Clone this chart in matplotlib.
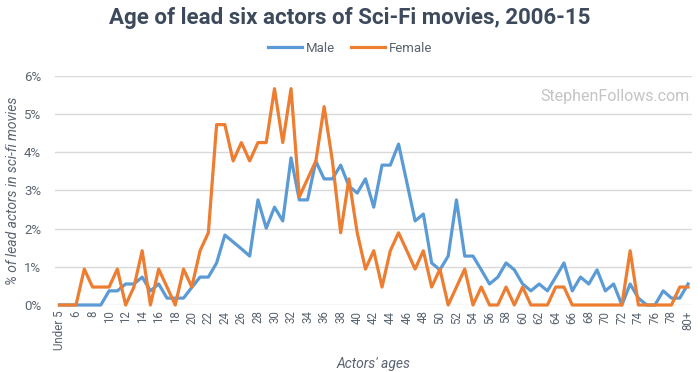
import matplotlib
matplotlib.use("Agg")
import matplotlib.pyplot as plt
from matplotlib.ticker import FuncFormatter

plt.rcParams["font.family"] = ["Roboto", "DejaVu Sans"]

# age categories: Under 5, 5 ... 79, 80+
AGES = ["Under 5"] + [str(a) for a in range(5, 80)] + ["80+"]

MALE = [
    0, 0, 0, 0, 0, 0, 0.37, 0.37, 0.55, 0.55,          # U5 .. 13
    0.73, 0.37, 0.55, 0.18, 0.18, 0.18, 0.46, 0.73, 0.73, 1.10,  # 14 .. 23
    1.83, 1.65, 1.47, 1.28, 2.75, 2.01, 2.56, 2.20, 3.85, 2.75,  # 24 .. 33
    2.75, 3.76, 3.30, 3.30, 3.66, 3.11, 2.93, 3.30, 2.56, 3.66,  # 34 .. 43
    3.66, 4.21, 3.21, 2.20, 2.38, 1.10, 0.92, 1.28, 2.75, 1.28,  # 44 .. 53
    1.28, 0.92, 0.55, 0.73, 1.10, 0.92, 0.55, 0.37, 0.55, 0.37,  # 54 .. 63
    0.73, 1.10, 0.37, 0.73, 0.55, 0.92, 0.37, 0.55, 0, 0.55,     # 64 .. 73
    0.18, 0, 0, 0.37, 0.18, 0.18, 0.55,                          # 74 .. 80+
]
FEMALE = [
    0, 0, 0, 0.94, 0.47, 0.47, 0.47, 0.94, 0, 0.47,             # U5 .. 13
    1.42, 0, 0.94, 0.47, 0, 0.94, 0.47, 1.42, 1.89, 4.72,       # 14 .. 23
    4.72, 3.77, 4.25, 3.77, 4.25, 4.25, 5.66, 4.25, 5.66, 2.83,  # 24 .. 33
    3.30, 3.77, 5.19, 3.77, 1.89, 3.30, 1.89, 0.94, 1.42, 0.47,  # 34 .. 43
    1.42, 1.89, 1.42, 0.94, 1.42, 0.47, 0.94, 0, 0.47, 0.94,     # 44 .. 53
    0, 0.47, 0, 0, 0.47, 0, 0.47, 0, 0, 0,                       # 54 .. 63
    0.47, 0.47, 0, 0, 0, 0, 0, 0, 0, 1.42,                       # 64 .. 73
    0, 0, 0, 0, 0, 0.47, 0.47,                                   # 74 .. 80+
]

BLUE = "#5b9bd5"
ORANGE = "#ed7d31"
TEXT = "#3d4a5c"
TICK = "#59636f"

fig = plt.figure(figsize=(7.0, 3.72), dpi=100)
ax = fig.add_axes([55 / 700, 67 / 372, 637 / 700, 229.3 / 372])

x = list(range(len(AGES)))
ax.plot(x, MALE, color=BLUE, lw=2.3, label="Male", clip_on=False, zorder=3)
ax.plot(x, FEMALE, color=ORANGE, lw=2.3, label="Female", clip_on=False, zorder=4)

ax.set_xlim(-0.54, 76.48)
ax.set_ylim(0, 6)
ax.set_yticks(range(0, 7))
ax.yaxis.set_major_formatter(FuncFormatter(lambda v, p: f"{v:.0f}%"))
ax.set_xticks(x[::2])
ax.set_xticklabels(AGES[::2], rotation=90, fontsize=8.3, color=TICK)
ax.tick_params(axis="y", labelsize=9.5, colors=TICK, length=0, pad=10)
ax.tick_params(axis="x", length=0, pad=4)

ax.grid(axis="y", color="#d9d9d9", lw=1)
ax.set_axisbelow(True)
for s in ax.spines.values():
    s.set_visible(False)

ax.set_ylabel("% of lead actors in sci-fi movies", fontsize=10, color=TICK,
              style="italic")
ax.yaxis.set_label_coords(-35 / 637, 0.5)
ax.set_xlabel("Actors' ages", fontsize=10, color=TICK, style="italic")
ax.xaxis.set_label_coords(0.5, -(357 - 305) / 229.3)

fig.text(0.5, 1 - 18 / 372, "Age of lead six actors of Sci-Fi movies, 2006-15",
         ha="center", va="center", fontsize=16, fontweight="bold", color=TEXT)
fig.legend(loc="center", bbox_to_anchor=(0.5, 1 - 48 / 372), ncol=2, frameon=False,
           fontsize=9.5, handlelength=2.6, handletextpad=0.3, columnspacing=1.2,
           labelcolor=TICK)
fig.text(690 / 700, 1 - 97 / 372, "StephenFollows.com", ha="right", va="center",
         fontsize=11.5, color="#c4c4c4")

fig.savefig("out.png", dpi=100)
